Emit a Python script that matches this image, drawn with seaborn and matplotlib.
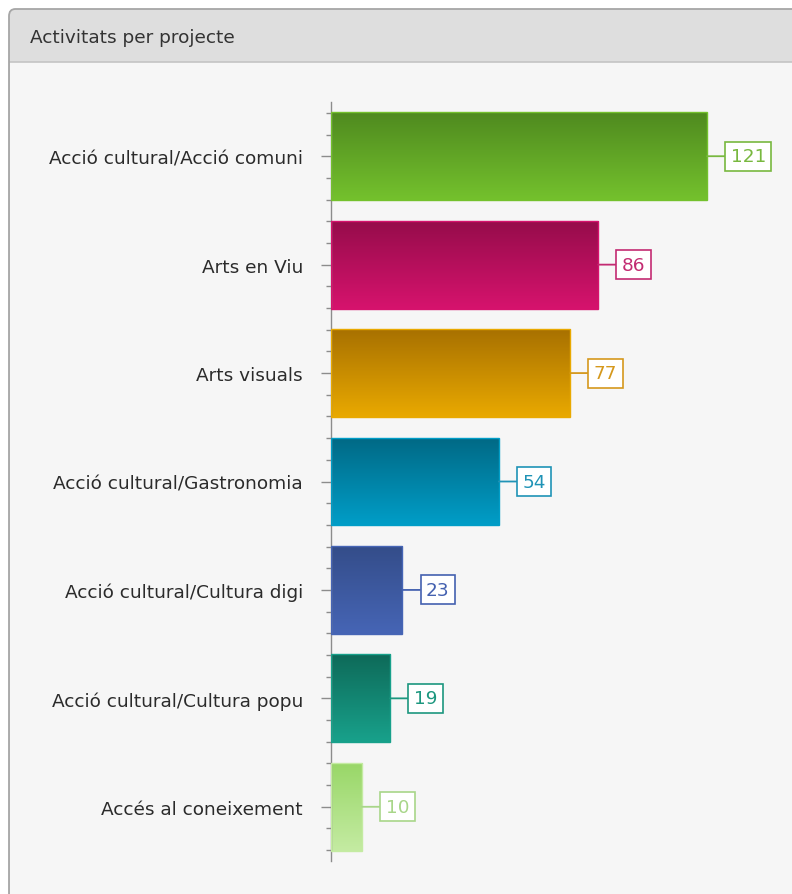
import numpy as np
import pandas as pd
import matplotlib
matplotlib.use('Agg')
import matplotlib.pyplot as plt
from matplotlib.patches import FancyBboxPatch, Rectangle
from matplotlib.colors import LinearSegmentedColormap
import seaborn as sns

# data
projects = ['Acció cultural/Acció comuni', 'Arts en Viu', 'Arts visuals',
            'Acció cultural/Gastronomia', 'Acció cultural/Cultura digi',
            'Acció cultural/Cultura popu', 'Accés al coneixement']
activities = [121, 86, 77, 54, 23, 19, 10]

# gradient colours (top, bottom) and label colour per bar
top_colors = ['#4f8a1f', '#960c4b', '#a87100', '#006985', '#344d8a', '#0e6a59', '#99d768']
bottom_colors = ['#74c12d', '#d6136d', '#e9a900', '#009dc7', '#4665b5', '#18a18b', '#c4eba2']
label_colors = ['#78b83f', '#c32b72', '#d5981c', '#1f93b6', '#4461b0', '#1c977f', '#a8d689']

FS = 13.3
W, H = 792, 895
fig = plt.figure(figsize=(W / 100, H / 100), dpi=100)
fig.patch.set_facecolor('white')

def fx(px):
    return px / W

def fy(py):
    return 1 - py / H

# panel: header + body
fig.patches.append(FancyBboxPatch((fx(9), fy(930)), fx(830), fy(10) - fy(930),
                                  boxstyle='round,pad=0,rounding_size=0.008',
                                  transform=fig.transFigure, fc='#dedede', ec='none',
                                  zorder=-3))
fig.patches.append(Rectangle((fx(10), fy(930)), fx(830), fy(63) - fy(930),
                             transform=fig.transFigure, fc='#f6f6f6', ec='none', zorder=-2))
fig.lines.append(plt.Line2D([fx(10), 1], [fy(63), fy(63)], transform=fig.transFigure,
                            color='#c4c4c4', lw=1.2, zorder=-1))
fig.patches.append(FancyBboxPatch((fx(9), fy(930)), fx(830), fy(10) - fy(930),
                                  boxstyle='round,pad=0,rounding_size=0.008',
                                  transform=fig.transFigure, fc='none', ec='#a6a6a6',
                                  lw=1.3, zorder=-1))
fig.text(fx(30), fy(38), 'Activitats per projecte', fontsize=FS, color='#333333',
         va='center', ha='left')

df = pd.DataFrame({'project': projects, 'activities': activities})

ax = fig.add_axes([fx(331), fy(862), fx(766) - fx(331), fy(103) - fy(862)])
ax.set_facecolor('none')
ax.set_zorder(1)
sns.barplot(data=df, x='activities', y='project', hue='project', palette=bottom_colors,
            legend=False, orient='h', width=0.81, ax=ax, saturation=1)

# vertical gradients inside each bar
for patch, c_top, c_bot in zip(ax.patches, top_colors, bottom_colors):
    bb = patch.get_bbox()
    cmap = LinearSegmentedColormap.from_list('g', [c_top, c_bot])
    grad = np.linspace(0, 1, 100).reshape(-1, 1)
    im = ax.imshow(grad, cmap=cmap, aspect='auto', interpolation='bicubic',
                   extent=[bb.x0, bb.x1, max(bb.y0, bb.y1), min(bb.y0, bb.y1)],
                   origin='upper', zorder=2)
    im.set_clip_path(patch)
    patch.set_facecolor('none')
    patch.set_edgecolor(c_bot)
    patch.set_linewidth(1.0)
    patch.set_zorder(3)

ax.set_aspect('auto')
ax.set_xlim(0, 140)
ax.set_ylim(len(projects) - 0.5, -0.5)

# value labels with connector
for i, (v, c) in enumerate(zip(activities, label_colors)):
    ax.annotate(str(v), xy=(v, i), xytext=(17, 0), textcoords='offset points',
                ha='left', va='center', fontsize=FS, color=c,
                bbox=dict(boxstyle='square,pad=0.3', fc='white', ec=c, lw=1.2),
                arrowprops=dict(arrowstyle='-', color=c, lw=1.3, shrinkA=0, shrinkB=0),
                zorder=5)

# axes styling
for s in ['top', 'right', 'bottom']:
    ax.spines[s].set_visible(False)
ax.spines['left'].set_color('#8c8c8c')
ax.spines['left'].set_linewidth(1.0)
ax.set_xticks([])
ax.set_xlabel('')
ax.set_ylabel('')
minor = [i + d for i in range(len(projects)) for d in (-0.4, -0.2, 0.2, 0.4)]
ax.set_yticks(minor, minor=True)
ax.tick_params(axis='y', which='major', length=7.2, width=1, color='#8c8c8c',
               labelsize=FS, labelcolor='#2b2b2b', pad=13)
ax.tick_params(axis='y', which='minor', length=3.6, width=1, color='#8c8c8c')

fig.savefig('out.png', dpi=100)
